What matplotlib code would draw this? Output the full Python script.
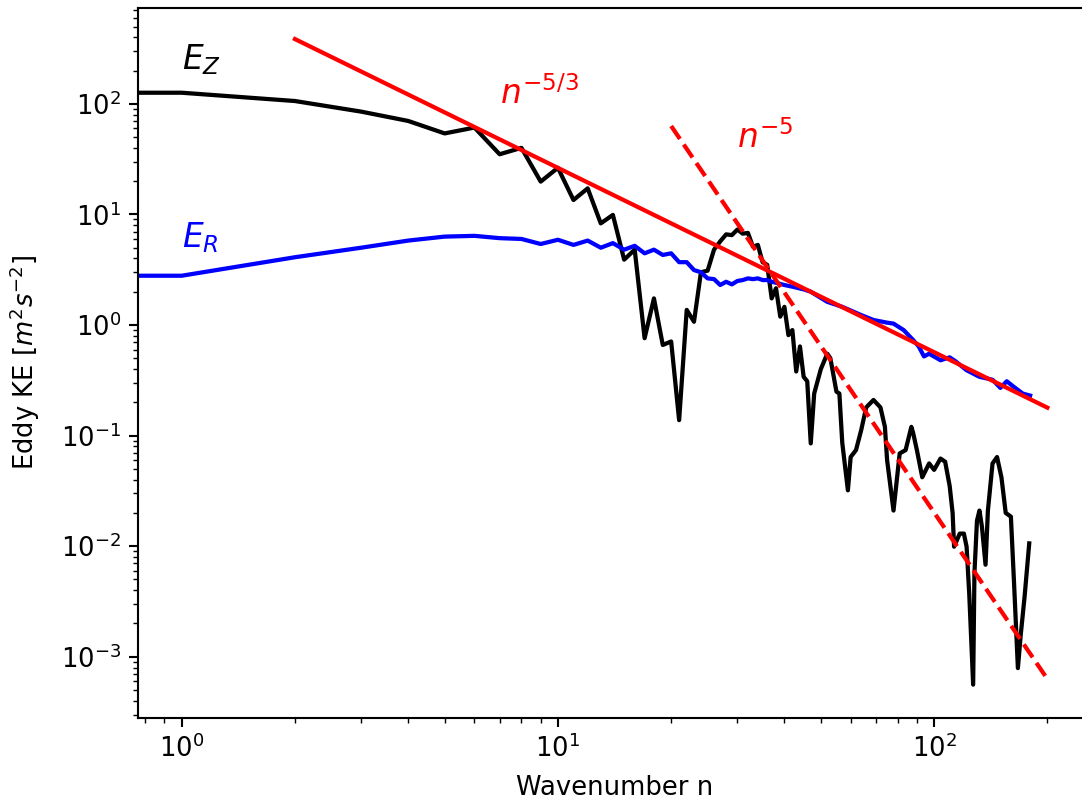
import matplotlib
matplotlib.use('Agg')
import matplotlib.pyplot as plt
import numpy as np

# eddy kinetic energy spectra (n = 0 is flat to n = 1)
n_z = [0, 1, 2, 3, 4, 5, 6, 7, 8, 9, 10, 11, 12, 13, 14, 15, 16, 17, 18, 19,
       20, 21, 22, 23, 24, 25, 26, 27, 28, 29, 30, 31, 32, 33, 34, 35, 36, 37,
       38, 39, 40, 41, 42, 43, 44, 45, 46, 47, 48, 50, 52, 53, 55, 56, 57, 59,
       60, 62, 64, 66, 69, 72, 74, 75, 78, 81, 84, 87, 88, 90, 93, 97, 100,
       104, 107, 110, 112, 113, 117, 120, 122, 124, 127, 128, 130, 132, 134,
       137, 139, 143, 147, 151, 155, 160, 163, 167, 170, 174, 179]
E_z = [126, 126, 106, 85, 70, 54, 61, 35, 40, 19.8, 26.4, 13.5, 17.2, 8.3,
       9.9, 3.9, 4.8, 0.76, 1.74, 0.66, 0.71, 0.138, 1.37, 1.07, 3.0, 3.1,
       4.8, 5.7, 6.6, 6.5, 7.3, 6.7, 6.8, 5.1, 5.3, 3.7, 3.5, 1.74, 2.15,
       1.19, 1.46, 0.81, 0.90, 0.38, 0.64, 0.34, 0.31, 0.085, 0.24, 0.40,
       0.55, 0.50, 0.25, 0.24, 0.086, 0.032, 0.064, 0.074, 0.112, 0.18, 0.21,
       0.18, 0.12, 0.060, 0.021, 0.069, 0.074, 0.12, 0.105, 0.074, 0.042,
       0.056, 0.049, 0.062, 0.058, 0.035, 0.020, 0.0099, 0.013, 0.013,
       0.0099, 0.0037, 0.00056, 0.0057, 0.017, 0.021, 0.015, 0.0068, 0.021,
       0.056, 0.064, 0.042, 0.020, 0.0185, 0.0049, 0.00079, 0.0016, 0.0035,
       0.0106]

n_r = [0, 1, 2, 3, 4, 5, 6, 7, 8, 9, 10, 11, 12, 13, 14, 15, 16, 17, 18, 19,
       20, 21, 22, 23, 24, 25, 26, 27, 28, 29, 30, 31, 32, 33, 34, 35, 36, 37,
       38, 40, 42, 45, 47, 52, 57, 64, 69, 75, 78, 83, 88, 91, 94, 97, 104,
       110, 114, 122, 132, 143, 150, 156, 162, 172, 180]
E_r = [2.79, 2.79, 4.1, 5.0, 5.8, 6.3, 6.4, 6.1, 6.0, 5.4, 5.9, 5.3, 5.8, 5.0,
       5.5, 4.8, 5.2, 4.45, 4.8, 4.3, 4.45, 3.7, 3.7, 3.14, 3.0, 2.64, 2.6,
       2.3, 2.46, 2.33, 2.5, 2.55, 2.64, 2.6, 2.64, 2.55, 2.55, 2.46, 2.41,
       2.3, 2.22, 2.1, 2.0, 1.62, 1.46, 1.23, 1.11, 1.05, 1.03, 0.90, 0.73,
       0.64, 0.52, 0.55, 0.48, 0.51, 0.47, 0.39, 0.34, 0.32, 0.27, 0.31, 0.28,
       0.24, 0.23]

# reference slopes (end points)
n_53 = [2, 200]
E_53 = [385, 0.179]
n_5 = [20, 200]
E_5 = [63, 6.3e-4]

xticks = [1, 10, 100]
yticks = [1e-3, 1e-2, 1e-1, 1, 10, 100]

plt.rcParams['font.size'] = 11
plt.rcParams['axes.linewidth'] = 0.9
plt.rcParams['xtick.major.size'] = 3.9
plt.rcParams['ytick.major.size'] = 3.9
plt.rcParams['xtick.minor.size'] = 2.2
plt.rcParams['ytick.minor.size'] = 2.2
plt.rcParams['xtick.major.width'] = 0.9
plt.rcParams['ytick.major.width'] = 0.9

fig = plt.figure(figsize=(1082 / 169, 804 / 169), dpi=169)
ax = fig.add_axes([138.3 / 1082, 1 - 717.5 / 804, 952.3 / 1082, 710 / 804])

ax.loglog(n_z, E_z, color='k', lw=1.8)
ax.loglog(n_r, E_r, color='b', lw=1.8)
ax.loglog(n_53, E_53, color='r', lw=1.8)
ax.loglog(n_5, E_5, color='r', lw=1.8, linestyle='--')

ax.text(1, 205, r'$E_Z$', fontsize=14, color='k')
ax.text(1, 5, r'$E_R$', fontsize=14, color='b')
ax.text(7, 100, r'$n^{-5/3}$', fontsize=14, color='r')
ax.text(30, 40, r'$n^{-5}$', fontsize=14, color='r')

ax.set_xlim(10 ** -0.1154, 10 ** 2.416)
ax.set_ylim(10 ** -3.549, 10 ** 2.871)
ax.set_xticks(xticks)
ax.set_yticks(yticks)
ax.set_xlabel('Wavenumber n', labelpad=5)
ax.set_ylabel(r'Eddy KE [$m^2s^{-2}$]', labelpad=8)

fig.savefig('out.png', dpi=169)
